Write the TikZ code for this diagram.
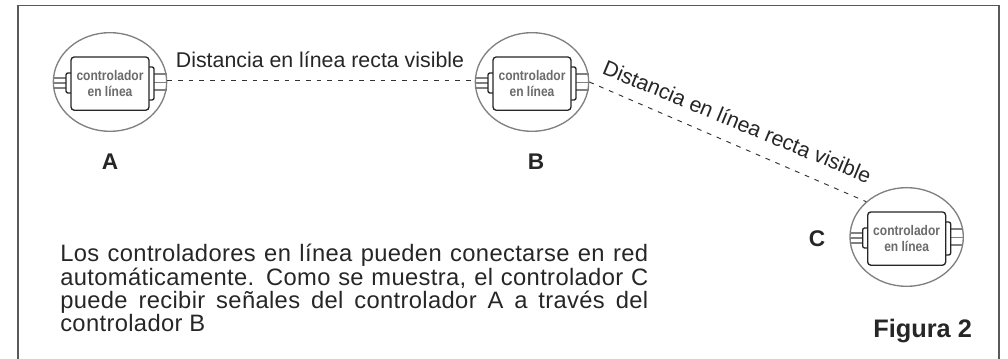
\documentclass[tikz,border=0pt]{standalone}
\usepackage{fontspec}
\setmainfont{Liberation Sans}
\newfontfamily\ctrlfont[FakeStretch=0.86]{Liberation Sans}
\newfontfamily\notefont[LetterSpace=1.5]{Liberation Sans}
\usetikzlibrary{positioning,calc,shapes.geometric}
\definecolor{framegray}{gray}{0.35}
\definecolor{ringgray}{gray}{0.5}
\definecolor{labelgray}{gray}{0.42}
\tikzset{x=1pt,y=-1pt,
  ring/.style={draw=ringgray,line width=1pt,ellipse,minimum width=85pt,minimum height=74pt,inner sep=0pt},
  ctrlbox/.style={draw=black!85,line width=1pt,rounded corners=2.5pt,minimum width=58.5pt,minimum height=40pt,inner sep=0pt,
    fill=white,align=center,text=labelgray,font=\ctrlfont\fontsize{10.5}{12}\selectfont\bfseries},
  wire/.style={draw=ringgray,line width=1.4pt},
  tab/.style={draw=black!85,line width=1pt,rounded corners=1.5pt,fill=white},
  link/.style={draw=black!80,line width=0.7pt,dash pattern=on 3.6pt off 4.4pt},
  caption/.style={font=\fontsize{16}{18}\selectfont,text=black!85,inner sep=0pt},
  tag/.style={font=\fontsize{17}{20}\selectfont\bfseries,text=black!85,inner sep=0pt},
  noteline/.style={font=\notefont\fontsize{17.8}{18}\selectfont,text=black!85,inner sep=0pt,anchor=base west},
}
\newcommand{\controller}[3]{%
  \node [ring] (#1) at (#2,#3) {};
  \foreach \dy in {-3,0.75,4.5} {
    \draw [wire] ($(#1)+(-42.5,\dy)$) -- ($(#1)+(-30,\dy)$);
  }
  \foreach \dy in {-6,0.4,6} {
    \draw [wire] ($(#1)+(32,\dy)$) -- ($(#1)+(42.5,\dy)$);
  }
  \draw [tab] ($(#1)+(-33,-6.75)$) rectangle ($(#1)+(-27,8.25)$);
  \draw [tab] ($(#1)+(27,-11.25)$) rectangle ($(#1)+(33,13.5)$);
  \node [ctrlbox] (#1box) at ($(#1)+(0,1.2)$) {controlador\\en línea};
}
\begin{document}
\begin{tikzpicture}
\useasboundingbox (0,0) rectangle (756,269.25);
\draw [framegray,line width=1pt] (13.5,269.25) -- (13.5,4) -- (749.25,4) -- (749.25,269.25);
\controller{ctrlA}{82.5}{61.5}
\controller{ctrlB}{399}{61.5}
\controller{ctrlC}{680}{177.75}
\coordinate (startAB) at ($(ctrlA.east)+(0,-1.5)$);
\draw [link] (startAB) -- (ctrlB.west |- startAB);
\draw [link] (ctrlB.east) -- (ctrlC.north west);
\node [caption] (upper) at (240,45) {Distancia en línea recta visible};
\node [caption,rotate=-22.5] (lower) at (553,91) {Distancia en línea recta visible};
\node [tag] (tagA) at (82.5,121.5) {A};
\node [tag] (tagB) at (402,121.5) {B};
\node [tag] (tagC) at (612.7,179) {C};
\node [noteline] (noteA) at (45,196.5) {\makebox[441pt][s]{Los controladores en línea pueden conectarse en red}};
\node [noteline] (noteB) at (45,214) {\makebox[441pt][s]{automáticamente. Como se muestra, el controlador C}};
\node [noteline] (noteC) at (45,231.7) {\makebox[441pt][s]{puede recibir señales del controlador A a través del}};
\node [noteline] (noteD) at (45,249) {controlador B};
\node [tag,font=\fontsize{19}{22}\selectfont\bfseries,anchor=base] (figtag) at (692,253.5) {Figura 2};
\end{tikzpicture}
\end{document}
